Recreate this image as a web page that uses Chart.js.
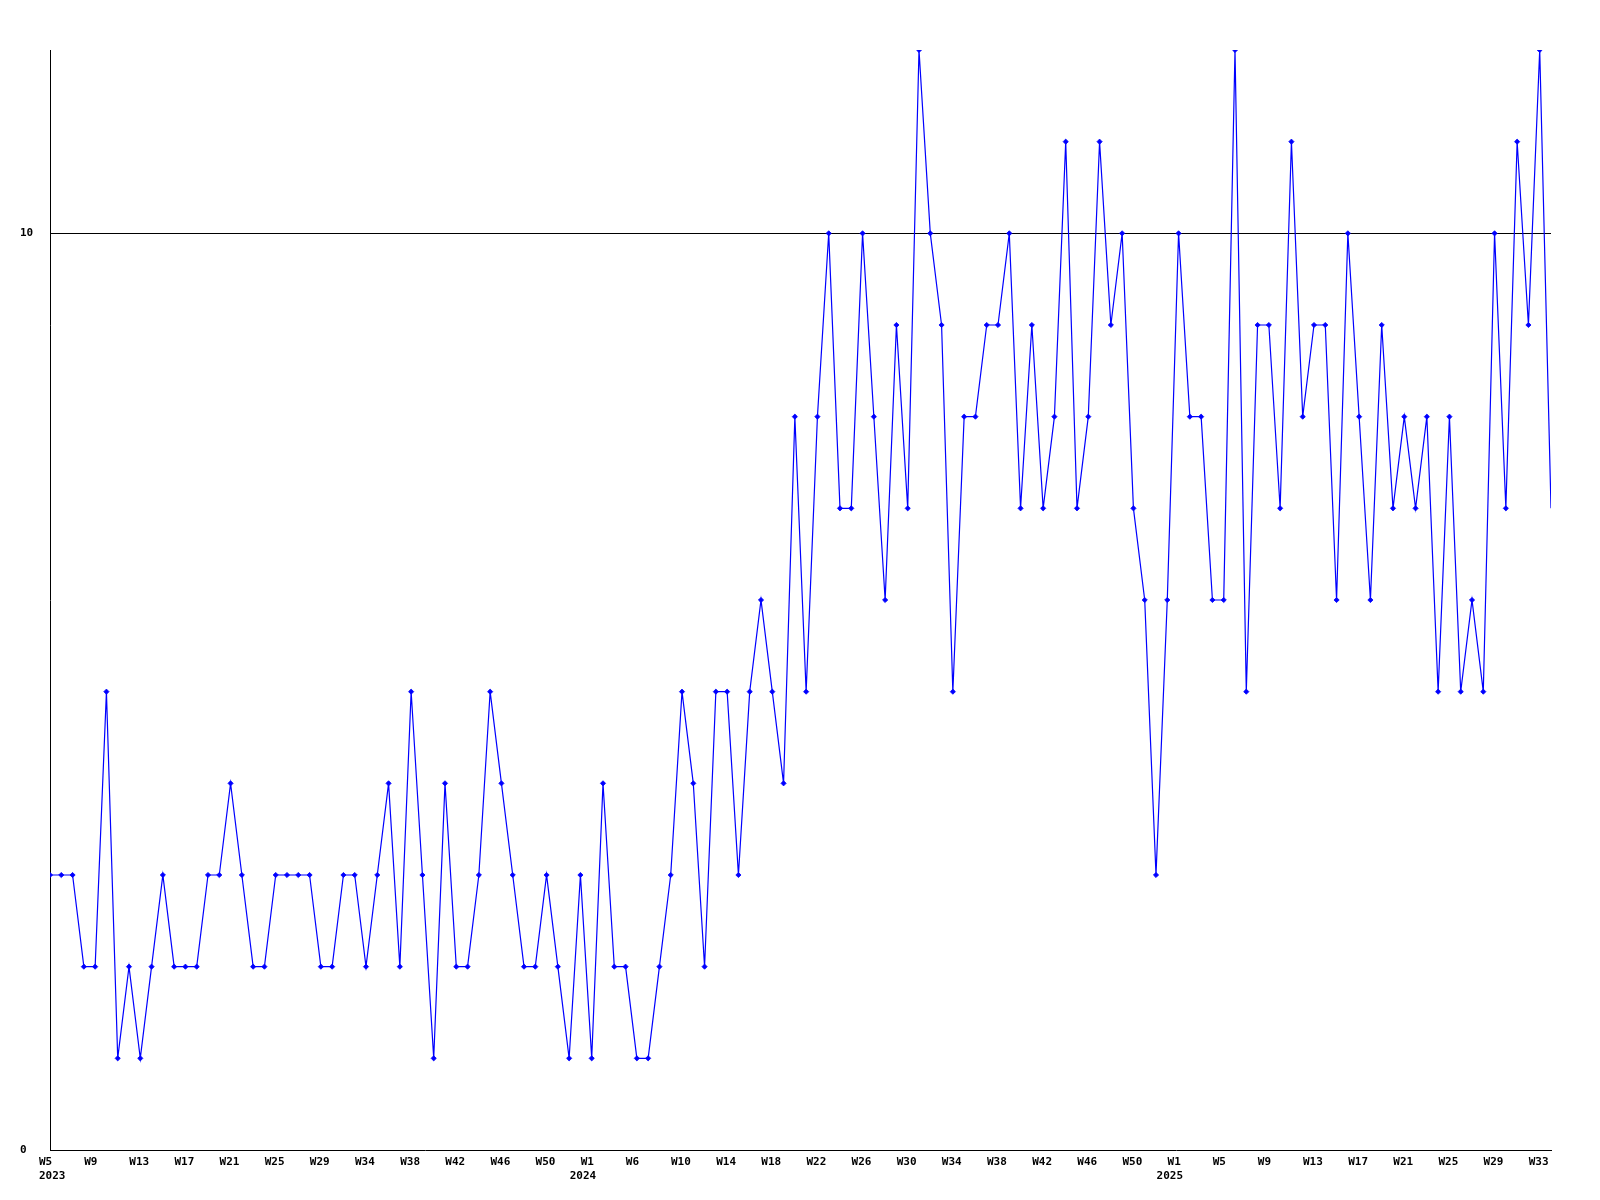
<!DOCTYPE html>
<html>
<head>
<meta charset="utf-8">
<script src="https://cdn.jsdelivr.net/npm/chart.js@4/dist/chart.umd.min.js"></script>
<style>
  html, body { margin: 0; padding: 0; background: #ffffff; }
  #wrap { width: 1600px; height: 1200px; }
</style>
</head>
<body>
<div id="wrap"><canvas id="c" width="1600" height="1200"></canvas></div>
<script>
// Weekly series, 2023 W5 .. 2025 W34 (134 weeks)
const values2023 = [3,3,3,2,2,5,1,2,1,2,3,2,2,2,3,3,4,3,2,2,3,3,3,3,2,2,3,3,2,3,4,2,5,3,1,4,2,2,3,5,4,3,2,2,3,2,1,3];
const values2024 = [1,4,2,2,1,1,2,3,5,4,2,5,5,3,5,6,5,4,8,5,8,10,7,7,10,8,6,9,7,12,10,9,5,8,8,9,9,10,7,9,7,8,11,7,8,11,9,10,7,6,3,6];
const values2025 = [10,8,8,6,6,12,5,9,9,7,11,8,9,9,6,10,8,6,9,7,8,7,8,5,8,5,6,5,10,7,11,9,12,7];
const values = values2023.concat(values2024, values2025);

// Categories (ISO weeks)
const categories = [];
for (let w = 5; w <= 52; w++) categories.push('2023-W' + w);
for (let w = 1; w <= 52; w++) categories.push('2024-W' + w);
for (let w = 1; w <= 34; w++) categories.push('2025-W' + w);

// X tick labels: one every 4th week
const xTickStep = 4;
const xTickWeeks = ['W5','W9','W13','W17','W21','W25','W29','W34','W38','W42','W46','W50',
                    'W1','W6','W10','W14','W18','W22','W26','W30','W34','W38','W42','W46','W50',
                    'W1','W5','W9','W13','W17','W21','W25','W29','W33'];
// Year labels and the week index where each year's label sits
const yearLabels = ['2023', '2024', '2025'];
const yearTickAt = [0, 48, 100];
const yTicks = [0, 10];

const tickFont = { family: '"DejaVu Sans Mono", "Liberation Mono", monospace', size: 11, weight: 'bold', lineHeight: 1.2 };

const points = values.map((v, i) => ({ x: i, y: v }));

// The two year-label axes share one row under the week labels
const yearRowPlugin = {
  id: 'yearRow',
  afterLayout(chart) {
    const a = chart.scales.xYearFirst, b = chart.scales.xYearRest;
    if (!a || !b) return;
    b.top = a.top; b.bottom = a.bottom; b.height = a.height;
    b._labelItems = null;
  }
};

function yearAxis(weight, labels, at, offset, height) {
  return {
    type: 'linear',
    position: 'bottom',
    weight: weight,
    min: 0,
    max: values.length - 1,
    afterBuildTicks: (axis) => { axis.ticks = at.map(v => ({ value: v })); },
    afterFit: (axis) => { axis.height = height; },
    grid: { display: false, drawTicks: false },
    border: { display: false },
    ticks: {
      autoSkip: false,
      maxRotation: 0,
      minRotation: 0,
      align: 'start',
      labelOffset: offset,
      padding: 0,
      color: '#000000',
      font: tickFont,
      callback: (value, index) => labels[index]
    }
  };
}

new Chart(document.getElementById('c'), {
  type: 'line',
  data: {
    labels: categories,
    datasets: [{
      data: points,
      xAxisID: 'x',
      borderColor: '#0000ff',
      backgroundColor: '#0000ff',
      borderWidth: 1.2,
      tension: 0,
      pointStyle: 'rectRot',
      pointRadius: (ctx) => ctx.dataIndex === values.length - 1 ? 0 : 2.6,
      pointBorderWidth: 0.8,
      pointBackgroundColor: '#0000ff',
      pointBorderColor: '#0000ff',
      fill: false
    }]
  },
  plugins: [yearRowPlugin],
  options: {
    responsive: false,
    devicePixelRatio: 1,
    animation: false,
    layout: { padding: { top: 50, right: 49, left: 20, bottom: 0 } },
    plugins: { legend: { display: false }, tooltip: { enabled: false }, title: { display: false } },
    scales: {
      x: {
        type: 'linear',
        position: 'bottom',
        weight: 0,
        min: 0,
        max: values.length - 1,
        afterBuildTicks: (axis) => { axis.ticks = xTickWeeks.map((_, i) => ({ value: i * xTickStep })); },
        afterFit: (axis) => { axis.height = 20; },
        grid: { display: false, drawTicks: false },
        border: { display: true, color: '#000000', width: 1 },
        ticks: {
          autoSkip: false,
          maxRotation: 0,
          minRotation: 0,
          align: 'start',
          labelOffset: -11,
          padding: 6,
          color: '#000000',
          font: tickFont,
          callback: (value, index) => xTickWeeks[index]
        }
      },
      xYearFirst: yearAxis(1, yearLabels.slice(0, 1), yearTickAt.slice(0, 1), -11, 30),
      xYearRest: yearAxis(2, yearLabels.slice(1), yearTickAt.slice(1), -22, 0),
      y: {
        min: 0,
        max: 12,
        afterBuildTicks: (axis) => { axis.ticks = yTicks.map(v => ({ value: v })); },
        afterFit: (axis) => { axis.width = 30; },
        grid: {
          drawTicks: false,
          lineWidth: 1,
          color: (ctx) => (ctx.tick && ctx.tick.value === 10) ? '#000000' : 'rgba(0,0,0,0)'
        },
        border: { display: true, color: '#000000', width: 1 },
        ticks: {
          crossAlign: 'far',
          padding: 0,
          color: '#000000',
          font: tickFont,
          callback: (value) => String(value)
        }
      }
    }
  }
});
</script>
</body>
</html>
